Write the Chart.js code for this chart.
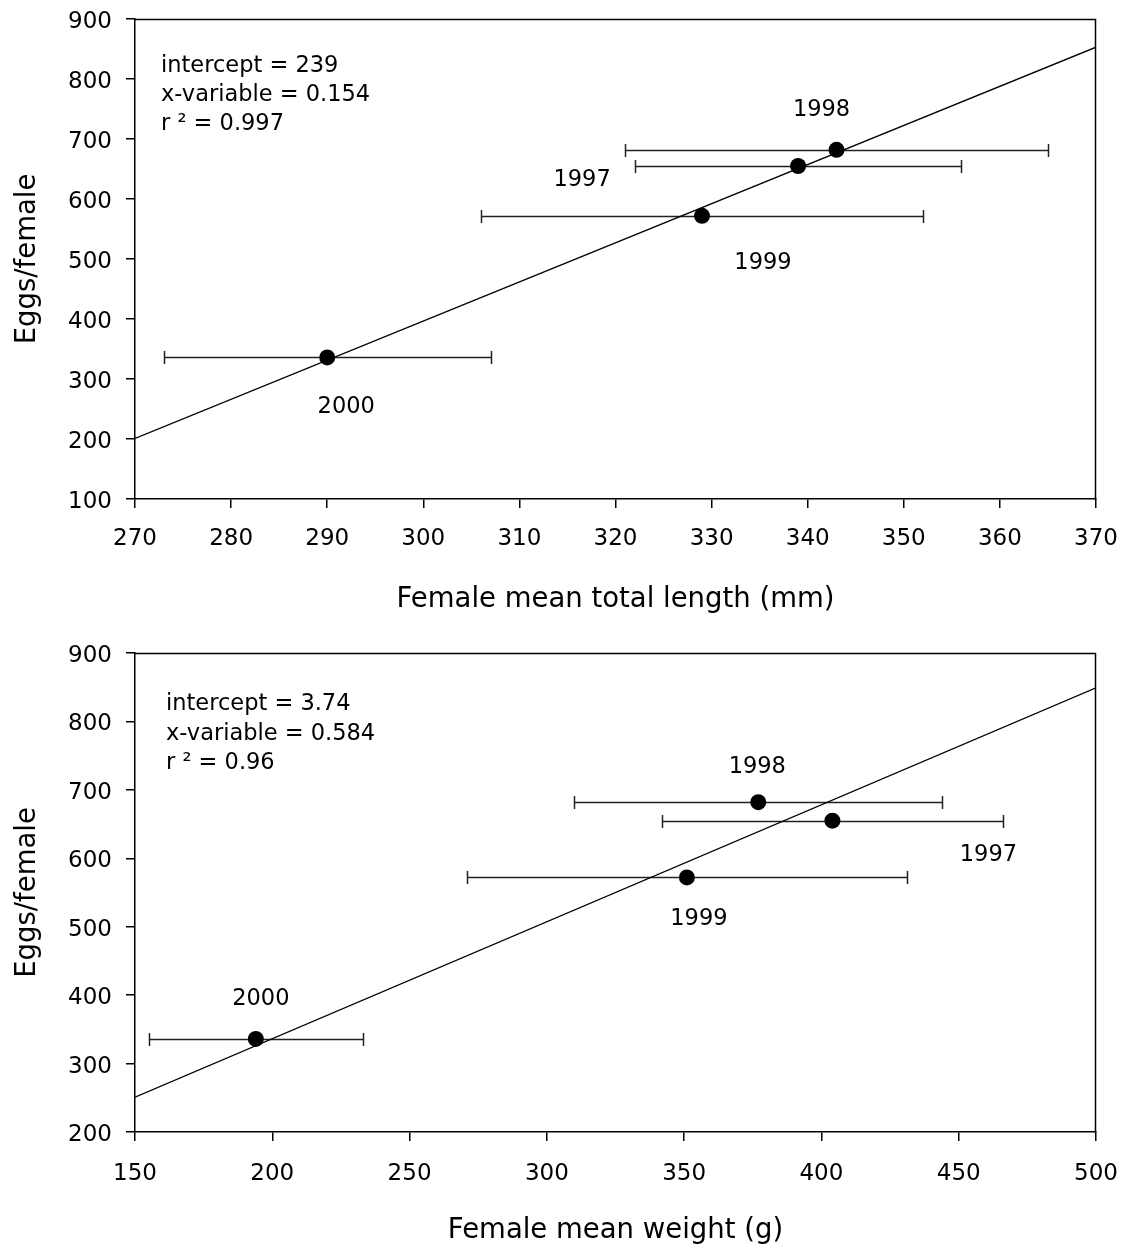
<!DOCTYPE html>
<html>
<head>
<meta charset="utf-8">
<script src="https://cdn.jsdelivr.net/npm/chart.js@4"></script>
<style>
  html, body { margin: 0; padding: 0; background: #fff; overflow: hidden; }
  #wrap { position: relative; width: 1121px; height: 1247px; overflow: hidden; }
  canvas { position: absolute; left: 0; display: block; }
</style>
</head>
<body>
<div id="wrap">
  <canvas id="lenChart" width="1121" height="620" style="top:0"></canvas>
  <canvas id="wtChart" width="1121" height="629" style="top:620px"></canvas>
</div>
<script>
// ---- data ----
const years = ['1997', '1998', '1999', '2000'];
const eggsPerFemale = [655, 682, 572, 336];

// female mean total length (mm) with range
const lengthMean = [339, 343, 329, 290];
const lengthLow = [322, 321, 306, 273];
const lengthHigh = [356, 365, 352, 307];
const lengthFitX = [270, 370];
const lengthFitY = [201, 853];
const lengthStats = ['intercept = 239', 'x-variable = 0.154', 'r \u00b2 = 0.997'];
const lengthTicksX = { min: 270, max: 370, step: 10 };
const lengthTicksY = { min: 100, max: 900, step: 100 };

// female mean weight (g) with range
const weightMean = [404, 377, 351, 194];
const weightLow = [342, 310, 271, 155];
const weightHigh = [466, 444, 431, 233];
const weightFitX = [150, 500];
const weightFitY = [251, 849];
const weightStats = ['intercept = 3.74', 'x-variable = 0.584', 'r \u00b2 = 0.96'];
const weightTicksX = { min: 150, max: 500, step: 50 };
const weightTicksY = { min: 200, max: 900, step: 100 };

// ---- styling ----
const FONT = "'DejaVu Sans', 'Liberation Sans', Arial, sans-serif";
const INK = '#000';

// horizontal range bars with end caps, drawn beneath the points
const rangeBars = {
  id: 'rangeBars',
  beforeDatasetsDraw(chart, args, o) {
    const { ctx, scales: { x, y } } = chart;
    ctx.save();
    ctx.strokeStyle = o.color;
    ctx.lineWidth = o.width;
    o.low.forEach((lo, i) => {
      const py = Math.round(y.getPixelForValue(o.yValues[i])) + 0.5;
      const x0 = Math.round(x.getPixelForValue(lo)) + 0.5;
      const x1 = Math.round(x.getPixelForValue(o.high[i])) + 0.5;
      ctx.beginPath();
      ctx.moveTo(x0, py); ctx.lineTo(x1, py);
      ctx.moveTo(x0, py - o.cap); ctx.lineTo(x0, py + o.cap);
      ctx.moveTo(x1, py - o.cap); ctx.lineTo(x1, py + o.cap);
      ctx.stroke();
    });
    ctx.restore();
  }
};

// year names next to each point
const yearTags = {
  id: 'yearTags',
  afterDatasetsDraw(chart, args, o) {
    const { ctx } = chart;
    const pts = chart.getDatasetMeta(0).data;
    ctx.save();
    ctx.font = o.font;
    ctx.fillStyle = INK;
    ctx.textAlign = 'center';
    ctx.textBaseline = 'middle';
    o.text.forEach((t, i) => {
      const p = pts[i];
      ctx.fillText(t, p.x + o.offsets[i][0], p.y + o.offsets[i][1]);
    });
    ctx.restore();
  }
};

// regression summary in the upper left corner
const fitSummary = {
  id: 'fitSummary',
  afterDatasetsDraw(chart, args, o) {
    const { ctx, chartArea } = chart;
    ctx.save();
    ctx.font = o.font;
    ctx.fillStyle = INK;
    ctx.textAlign = 'left';
    ctx.textBaseline = 'middle';
    o.lines.forEach((t, i) => {
      ctx.fillText(t, chartArea.left + o.dx, chartArea.top + o.dy[i]);
    });
    ctx.restore();
  }
};

// closes the plot box on the top and right sides
const boxFrame = {
  id: 'boxFrame',
  afterDraw(chart, args, o) {
    const { ctx, chartArea: a } = chart;
    ctx.save();
    ctx.strokeStyle = o.color;
    ctx.lineWidth = o.width;
    const t = Math.round(a.top) + 0.5, r = Math.round(a.right) - 0.5;
    ctx.beginPath();
    ctx.moveTo(Math.round(a.left), t);
    ctx.lineTo(r, t);
    ctx.lineTo(r, Math.round(a.bottom) + 1);
    ctx.stroke();
    ctx.restore();
  }
};

Chart.register(rangeBars, yearTags, fitSummary, boxFrame);

function buildPanel(id, cfg) {
  const points = cfg.mean.map((m, i) => ({ x: m, y: eggsPerFemale[i] }));
  const fit = cfg.fitX.map((v, i) => ({ x: v, y: cfg.fitY[i] }));
  const axisLine = { display: true, color: INK, width: 1.5 };
  const tickMarks = { display: true, drawOnChartArea: false, drawTicks: true, tickLength: 9, color: INK, lineWidth: 1.5 };
  return new Chart(document.getElementById(id), {
    type: 'scatter',
    data: {
      datasets: [
        { data: points, pointRadius: 8, pointHoverRadius: 8, backgroundColor: INK, borderWidth: 0, order: 0 },
        { type: 'line', data: fit, borderColor: INK, borderWidth: 1.3, pointRadius: 0, fill: false, order: 1 }
      ]
    },
    options: {
      responsive: false,
      devicePixelRatio: 1,
      animation: false,
      events: [],
      layout: { padding: { top: cfg.padTop, right: 25, left: 0, bottom: 0 } },
      scales: {
        x: {
          type: 'linear',
          min: cfg.ticksX.min, max: cfg.ticksX.max,
          ticks: { stepSize: cfg.ticksX.step, color: INK, font: { family: FONT, size: 23 }, padding: cfg.xTickPad, maxRotation: 0 },
          grid: tickMarks,
          border: axisLine,
          title: { display: true, text: cfg.xTitle, color: INK, font: { family: FONT, size: 27.5 }, padding: { top: 0, bottom: cfg.xTitlePad } },
          afterFit(s) { s.height = cfg.xAxisHeight; s.paddingLeft = 0; s.paddingRight = 0; }
        },
        y: {
          type: 'linear',
          min: cfg.ticksY.min, max: cfg.ticksY.max,
          ticks: { stepSize: cfg.ticksY.step, color: INK, font: { family: FONT, size: 23 }, padding: 14, labelOffset: 3 },
          grid: tickMarks,
          border: axisLine,
          title: { display: true, text: 'Eggs/female', color: INK, font: { family: FONT, size: 27.5 }, padding: { top: 11, bottom: 0 } },
          afterFit(s) { s.width = 135; s.paddingTop = 0; s.paddingBottom = 0; }
        }
      },
      plugins: {
        legend: { display: false },
        tooltip: { enabled: false },
        rangeBars: { low: cfg.low, high: cfg.high, yValues: eggsPerFemale, cap: 6.5, color: '#222', width: 1.5 },
        yearTags: { text: years, offsets: cfg.tagOffsets, font: '22.5px ' + FONT },
        fitSummary: { lines: cfg.stats, dx: cfg.statsDx, dy: cfg.statsDy, font: '22.5px ' + FONT },
        boxFrame: { color: INK, width: 1.5 }
      }
    }
  });
}

buildPanel('lenChart', {
  mean: lengthMean, low: lengthLow, high: lengthHigh,
  fitX: lengthFitX, fitY: lengthFitY,
  ticksX: lengthTicksX, ticksY: lengthTicksY,
  stats: lengthStats, statsDx: 26, statsDy: [47, 76, 105],
  xTitle: 'Female mean total length (mm)',
  padTop: 19, xAxisHeight: 121, xTickPad: 17, xTitlePad: 3.5,
  tagOffsets: [[-216, 14], [-15, -40], [61, 47], [19, 50]]
});

buildPanel('wtChart', {
  mean: weightMean, low: weightLow, high: weightHigh,
  fitX: weightFitX, fitY: weightFitY,
  ticksX: weightTicksX, ticksY: weightTicksY,
  stats: weightStats, statsDx: 31, statsDy: [51.5, 81, 110.5],
  xTitle: 'Female mean weight (g)',
  padTop: 33, xAxisHeight: 117, xTickPad: 19, xTitlePad: 1.5,
  tagOffsets: [[156, 35], [-1, -35], [12, 42], [5, -40]]
});
</script>
</body>
</html>
